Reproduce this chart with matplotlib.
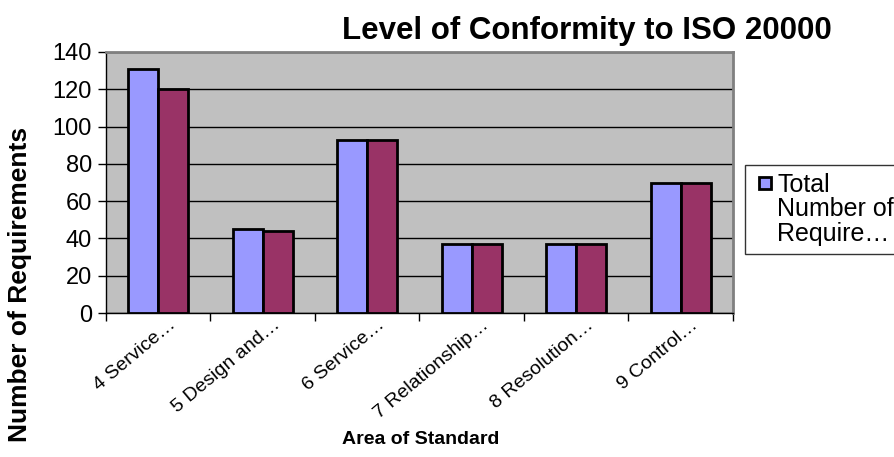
import matplotlib
matplotlib.use("Agg")
import matplotlib.pyplot as plt
import numpy as np
from matplotlib.patches import Patch, Rectangle
from matplotlib.legend_handler import HandlerPatch
from matplotlib.transforms import ScaledTranslation

plt.rcParams['font.family'] = ['Liberation Sans', 'DejaVu Sans']

categories = ["4 Service…", "5 Design and…", "6 Service…", "7 Relationship…",
              "8 Resolution…", "9 Control…"]
series_names = ["Total Number of Requirements", "Number of Requirements Met"]
total_req = [131, 45, 93, 37, 37, 70]
met_req = [120, 44, 93, 37, 37, 70]
y_ticks = [0, 20, 40, 60, 80, 100, 120, 140]
legend_label = "Total\nNumber of\nRequire…"

W, H = 895, 457
fig = plt.figure(figsize=(W / 100, H / 100), dpi=100)
ax = fig.add_axes([106 / W, 1 - 313 / H, (733 - 106) / W, (313 - 52) / H])
ax.set_facecolor('#C0C0C0')

x = np.arange(len(categories))
bw = 0.287
ax.bar(x - bw / 2, total_req, bw, color='#9999FF', edgecolor='black', linewidth=2,
       zorder=3, label=series_names[0])
ax.bar(x + bw / 2, met_req, bw, color='#993366', edgecolor='black', linewidth=2,
       zorder=3, label=series_names[1])

ax.set_xlim(-0.5, len(categories) - 0.5)
ax.set_ylim(0, 140)
ax.set_yticks(y_ticks)
ax.set_yticklabels([str(v) for v in y_ticks], fontsize=17)
ax.yaxis.grid(True, color='black', linewidth=1, zorder=1)
ax.tick_params(axis='y', direction='out', length=6, width=1, pad=4)

ax.set_xticks(np.arange(len(categories) + 1) - 0.5)
ax.set_xticklabels([])
ax.set_xticks(x, minor=True)
ax.set_xticklabels(categories, minor=True, rotation=40, ha='right', va='baseline',
                   rotation_mode='anchor', fontsize=14)
ax.tick_params(axis='x', which='major', direction='out', length=6, width=1)
ax.tick_params(axis='x', which='minor', length=0, pad=9.5)
shift = ScaledTranslation(18 / 100, 0, fig.dpi_scale_trans)
for lab in ax.get_xticklabels(minor=True):
    lab.set_transform(lab.get_transform() + shift)

for s in ['top', 'right']:
    ax.spines[s].set_color('#808080')
    ax.spines[s].set_linewidth(2)
for s in ['left', 'bottom']:
    ax.spines[s].set_color('black')
    ax.spines[s].set_linewidth(1)

fig.text(587 / W, 1 - 31 / H, "Level of Conformity to ISO 20000", fontsize=22.5,
         fontweight='bold', ha='center', va='center')
fig.text(421 / W, 1 - 440 / H, "Area of Standard", fontsize=14,
         fontweight='bold', ha='center', va='center')
fig.text(20 / W, 1 - 284 / H, "Number of Requirements", fontsize=19,
         fontweight='bold', ha='center', va='center', rotation=90)


def top_square(legend, orig_handle, xdescent, ydescent, width, height, fontsize):
    s = 0.48 * fontsize
    return Rectangle((-xdescent + width - s, -ydescent + height - s + 0.29 * fontsize), s, s)


handle = Patch(facecolor='#9999FF', edgecolor='black', linewidth=2)
leg = fig.legend([handle], [legend_label], loc='upper left',
                 bbox_to_anchor=(745 / W, 1 - 165 / H), fontsize=18,
                 frameon=True, fancybox=False, handlelength=0.75, handleheight=3.0,
                 handletextpad=0.25, borderpad=0.3, borderaxespad=0,
                 handler_map={Patch: HandlerPatch(patch_func=top_square)})
leg.get_frame().set_edgecolor('black')
leg.get_frame().set_linewidth(1)
for t in leg.get_texts():
    t.set_linespacing(1.05)

fig.savefig("out.png", dpi=100)
